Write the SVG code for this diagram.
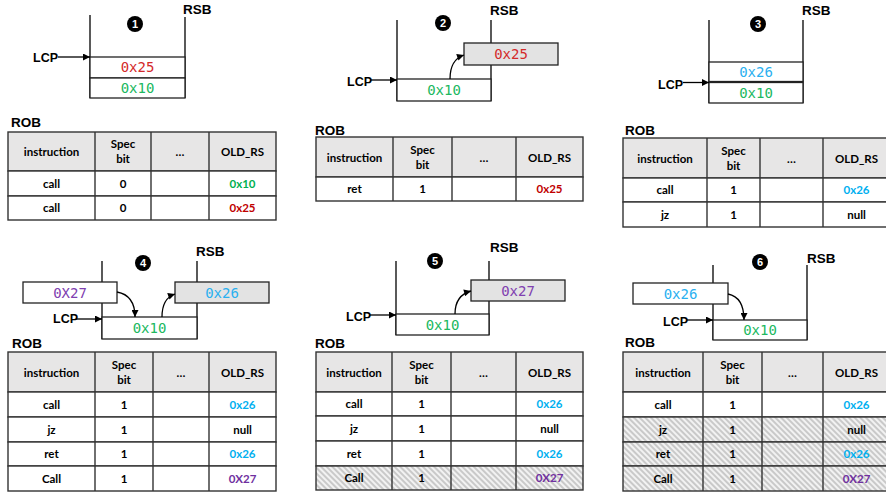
<svg xmlns="http://www.w3.org/2000/svg" width="886" height="492" viewBox="0 0 886 492">
<style>
.wall{stroke:#000;stroke-width:1.3;fill:none}
.box{fill:#fff;stroke:#222;stroke-width:1.3}
.gbox{fill:#e3e3e3;stroke:#222;stroke-width:1.3}
.mono{font-family:"DejaVu Sans Mono","Liberation Mono",monospace;font-size:14px;text-anchor:middle}
.lbl{font-family:"Liberation Sans",Arial,sans-serif;font-weight:bold;font-size:13.5px;fill:#000}
.lcp{font-family:"Liberation Sans",Arial,sans-serif;font-weight:bold;font-size:12.5px;fill:#000}
.nc{fill:#000}
.nt{font-family:"Liberation Sans",Arial,sans-serif;font-weight:bold;font-size:11px;fill:#fff;text-anchor:middle}
.th{fill:#e7e6e6;stroke:#333;stroke-width:1.4}
.td{fill:#fff;stroke:#333;stroke-width:1.4}
.hd{fill:url(#hatch);stroke:#333;stroke-width:1.4}
.vl{stroke:#333;stroke-width:1.4}
.tt{font-family:Lato,"Noto Sans","Liberation Sans",sans-serif;font-weight:bold;font-size:11.5px;text-anchor:middle;fill:#000}
.red{fill:#c00000}.grn{fill:#00b050}.blu{fill:#00b0f0}.pur{fill:#7030a0}
.mred{fill:#d42a2a}.mgrn{fill:#20b860}.mblu{fill:#2ab0f0}.mpur{fill:#8040b0}
.conn{stroke:#000;stroke-width:1.3;fill:none;marker-end:url(#ah)}
</style>
<defs>
<marker id="ah" viewBox="0 0 10 10" refX="10" refY="5" markerWidth="8" markerHeight="7" orient="auto" markerUnits="userSpaceOnUse"><path d="M0,0 L10,5 L0,10 z" fill="#000"/></marker>
<pattern id="hatch" patternUnits="userSpaceOnUse" width="4" height="4" patternTransform="rotate(-45)"><rect width="4" height="4" fill="#f2f2f2"/><line x1="1" y1="0" x2="1" y2="4" stroke="#bcbcbc" stroke-width="1.5"/></pattern>
</defs>

<!-- Panel 1 -->
<g id="rsb1">
<line class="wall" x1="90" y1="15" x2="90" y2="98"/>
<line class="wall" x1="185" y1="17" x2="185" y2="98"/>
<text class="lbl" x="183" y="14">RSB</text>
<circle class="nc" cx="135" cy="24" r="8"/><text class="nt" x="135" y="28">1</text>
<rect class="box" x="90" y="57" width="95" height="21"/><text class="mono mred" x="137.5" y="72">0x25</text>
<rect class="box" x="90" y="78" width="95" height="20"/><text class="mono mgrn" x="137.5" y="93">0x10</text>
<text class="lcp" x="33" y="62">LCP</text>
</g>
<g id="rob1">
<text class="lbl" x="11" y="127" font-size="14">ROB</text>
<rect class="th" x="8" y="132" width="268" height="39"/>
<rect class="td" x="8" y="171" width="268" height="25"/>
<rect class="td" x="8" y="196" width="268" height="24"/>
<line class="vl" x1="95" y1="132" x2="95" y2="220"/><line class="vl" x1="151" y1="132" x2="151" y2="220"/><line class="vl" x1="209" y1="132" x2="209" y2="220"/>
<text class="tt" x="51.5" y="156">instruction</text><text class="tt" x="123" y="148">Spec</text><text class="tt" x="123" y="163">bit</text><text class="tt" x="180" y="156">…</text><text class="tt" x="242.5" y="156">OLD_RS</text>
<text class="tt" x="51.5" y="187.5">call</text><text class="tt" x="123" y="187.5">0</text><text class="tt grn" x="242.5" y="187.5">0x10</text>
<text class="tt" x="51.5" y="212">call</text><text class="tt" x="123" y="212">0</text><text class="tt red" x="242.5" y="212">0x25</text>
</g>

<!-- Panel 2 -->
<g id="rsb2">
<line class="wall" x1="397" y1="20" x2="397" y2="101"/>
<line class="wall" x1="491" y1="20" x2="491" y2="101"/>
<text class="lbl" x="490" y="15">RSB</text>
<circle class="nc" cx="443" cy="23" r="8"/><text class="nt" x="443" y="27">2</text>
<rect class="gbox" x="464" y="43" width="94" height="22"/><text class="mono mred" x="511" y="59">0x25</text>
<rect class="box" x="397" y="79" width="94" height="22"/><text class="mono mgrn" x="444" y="95">0x10</text>
<text class="lcp" x="347" y="86">LCP</text>
</g>
<g id="rob2">
<text class="lbl" x="315" y="135" font-size="14">ROB</text>
<rect class="th" x="316" y="137" width="267" height="40"/>
<rect class="td" x="316" y="177" width="267" height="24"/>
<line class="vl" x1="393" y1="137" x2="393" y2="201"/><line class="vl" x1="452" y1="137" x2="452" y2="201"/><line class="vl" x1="516" y1="137" x2="516" y2="201"/>
<text class="tt" x="354.5" y="161.5">instruction</text><text class="tt" x="422.5" y="153.5">Spec</text><text class="tt" x="422.5" y="168.5">bit</text><text class="tt" x="484" y="161.5">…</text><text class="tt" x="549.5" y="161.5">OLD_RS</text>
<text class="tt" x="354.5" y="193">ret</text><text class="tt" x="422.5" y="193">1</text><text class="tt red" x="549.5" y="193">0x25</text>
</g>

<!-- Panel 3 -->
<g id="rsb3">
<line class="wall" x1="709" y1="20" x2="709" y2="103"/>
<line class="wall" x1="803" y1="20" x2="803" y2="103"/>
<text class="lbl" x="802" y="15">RSB</text>
<circle class="nc" cx="758" cy="24" r="8"/><text class="nt" x="758" y="28">3</text>
<rect class="box" x="709" y="62" width="94" height="19.5"/><text class="mono mblu" x="756" y="77">0x26</text>
<rect class="box" x="709" y="82.5" width="94" height="20.5"/><text class="mono mgrn" x="756" y="98">0x10</text>
<text class="lcp" x="658" y="89">LCP</text>
</g>
<g id="rob3">
<text class="lbl" x="625" y="135" font-size="14">ROB</text>
<rect class="th" x="623" y="138" width="267" height="40"/>
<rect class="td" x="623" y="178" width="267" height="24"/>
<rect class="td" x="623" y="202" width="267" height="25"/>
<line class="vl" x1="707" y1="138" x2="707" y2="227"/><line class="vl" x1="760" y1="138" x2="760" y2="227"/><line class="vl" x1="823" y1="138" x2="823" y2="227"/>
<text class="tt" x="665" y="162.5">instruction</text><text class="tt" x="733.5" y="154.5">Spec</text><text class="tt" x="733.5" y="169.5">bit</text><text class="tt" x="791.5" y="162.5">…</text><text class="tt" x="856.5" y="162.5">OLD_RS</text>
<text class="tt" x="665" y="194">call</text><text class="tt" x="733.5" y="194">1</text><text class="tt blu" x="856.5" y="194">0x26</text>
<text class="tt" x="665" y="218.5">jz</text><text class="tt" x="733.5" y="218.5">1</text><text class="tt" x="856.5" y="218.5">null</text>
</g>

<!-- Panel 4 -->
<g id="rsb4">
<line class="wall" x1="102" y1="261" x2="102" y2="339"/>
<line class="wall" x1="197" y1="261" x2="197" y2="339"/>
<text class="lbl" x="196" y="256">RSB</text>
<circle class="nc" cx="143" cy="263" r="8"/><text class="nt" x="143" y="267">4</text>
<rect class="box" x="23" y="282" width="94" height="21"/><text class="mono mpur" x="70" y="298">0X27</text>
<rect class="gbox" x="175" y="282" width="94" height="21"/><text class="mono mblu" x="222" y="298">0x26</text>
<rect class="box" x="102" y="317" width="95" height="22"/><text class="mono mgrn" x="149.5" y="333">0x10</text>
<text class="lcp" x="53" y="323">LCP</text>
</g>
<g id="rob4">
<text class="lbl" x="12" y="348" font-size="14">ROB</text>
<rect class="th" x="8" y="352" width="268" height="40"/>
<rect class="td" x="8" y="392" width="268" height="25"/>
<rect class="td" x="8" y="417" width="268" height="25"/>
<rect class="td" x="8" y="442" width="268" height="24"/>
<rect class="td" x="8" y="466" width="268" height="25"/>
<line class="vl" x1="95" y1="352" x2="95" y2="491"/><line class="vl" x1="153" y1="352" x2="153" y2="491"/><line class="vl" x1="209" y1="352" x2="209" y2="491"/>
<text class="tt" x="51.5" y="376.5">instruction</text><text class="tt" x="124" y="368.5">Spec</text><text class="tt" x="124" y="383.5">bit</text><text class="tt" x="181" y="376.5">…</text><text class="tt" x="242.5" y="376.5">OLD_RS</text>
<text class="tt" x="51.5" y="408.5">call</text><text class="tt" x="124" y="408.5">1</text><text class="tt blu" x="242.5" y="408.5">0x26</text>
<text class="tt" x="51.5" y="433.5">jz</text><text class="tt" x="124" y="433.5">1</text><text class="tt" x="242.5" y="433.5">null</text>
<text class="tt" x="51.5" y="458">ret</text><text class="tt" x="124" y="458">1</text><text class="tt blu" x="242.5" y="458">0x26</text>
<text class="tt" x="51.5" y="482.5">Call</text><text class="tt" x="124" y="482.5">1</text><text class="tt pur" x="242.5" y="482.5">0X27</text>
</g>

<!-- Panel 5 -->
<g id="rsb5">
<line class="wall" x1="396" y1="261" x2="396" y2="335"/>
<line class="wall" x1="489" y1="261" x2="489" y2="335"/>
<text class="lbl" x="490" y="252">RSB</text>
<circle class="nc" cx="435" cy="261" r="8"/><text class="nt" x="435" y="265">5</text>
<rect class="gbox" x="471" y="280" width="94" height="21"/><text class="mono mpur" x="518" y="296">0x27</text>
<rect class="box" x="396" y="314" width="93" height="21"/><text class="mono mgrn" x="442.5" y="330">0x10</text>
<text class="lcp" x="346" y="321">LCP</text>
</g>
<g id="rob5">
<text class="lbl" x="315" y="348" font-size="14">ROB</text>
<rect class="th" x="316" y="352" width="267" height="40"/>
<rect class="td" x="316" y="392" width="267" height="24"/>
<rect class="td" x="316" y="416" width="267" height="25"/>
<rect class="td" x="316" y="441" width="267" height="25"/>
<rect class="hd" x="316" y="466" width="267" height="24"/>
<line class="vl" x1="392" y1="352" x2="392" y2="490"/><line class="vl" x1="451" y1="352" x2="451" y2="490"/><line class="vl" x1="516" y1="352" x2="516" y2="490"/>
<text class="tt" x="354" y="376.5">instruction</text><text class="tt" x="421.5" y="368.5">Spec</text><text class="tt" x="421.5" y="383.5">bit</text><text class="tt" x="483.5" y="376.5">…</text><text class="tt" x="549.5" y="376.5">OLD_RS</text>
<text class="tt" x="354" y="408">call</text><text class="tt" x="421.5" y="408">1</text><text class="tt blu" x="549.5" y="408">0x26</text>
<text class="tt" x="354" y="432.5">jz</text><text class="tt" x="421.5" y="432.5">1</text><text class="tt" x="549.5" y="432.5">null</text>
<text class="tt" x="354" y="457.5">ret</text><text class="tt" x="421.5" y="457.5">1</text><text class="tt blu" x="549.5" y="457.5">0x26</text>
<text class="tt" x="354" y="482">Call</text><text class="tt" x="421.5" y="482">1</text><text class="tt pur" x="549.5" y="482">0X27</text>
</g>

<!-- Panel 6 -->
<g id="rsb6">
<line class="wall" x1="713" y1="265" x2="713" y2="340"/>
<line class="wall" x1="807" y1="265" x2="807" y2="340"/>
<text class="lbl" x="807" y="263">RSB</text>
<circle class="nc" cx="760" cy="262" r="8"/><text class="nt" x="760" y="266">6</text>
<rect class="box" x="633" y="283" width="95" height="21"/><text class="mono mblu" x="680.5" y="299">0x26</text>
<rect class="box" x="713" y="320" width="94" height="20"/><text class="mono mgrn" x="760" y="335">0x10</text>
<text class="lcp" x="663" y="326">LCP</text>
</g>
<g id="rob6">
<text class="lbl" x="625" y="347" font-size="14">ROB</text>
<rect class="th" x="623" y="352" width="267" height="40"/>
<rect class="td" x="623" y="392" width="267" height="25"/>
<rect class="hd" x="623" y="417" width="267" height="25"/>
<rect class="hd" x="623" y="442" width="267" height="24"/>
<rect class="hd" x="623" y="466" width="267" height="25"/>
<line class="vl" x1="703" y1="352" x2="703" y2="491"/><line class="vl" x1="762" y1="352" x2="762" y2="491"/><line class="vl" x1="823" y1="352" x2="823" y2="491"/>
<text class="tt" x="663" y="376.5">instruction</text><text class="tt" x="732.5" y="368.5">Spec</text><text class="tt" x="732.5" y="383.5">bit</text><text class="tt" x="792.5" y="376.5">…</text><text class="tt" x="856.5" y="376.5">OLD_RS</text>
<text class="tt" x="663" y="408.5">call</text><text class="tt" x="732.5" y="408.5">1</text><text class="tt blu" x="856.5" y="408.5">0x26</text>
<text class="tt" x="663" y="433.5">jz</text><text class="tt" x="732.5" y="433.5">1</text><text class="tt" x="856.5" y="433.5">null</text>
<text class="tt" x="663" y="458">ret</text><text class="tt" x="732.5" y="458">1</text><text class="tt blu" x="856.5" y="458">0x26</text>
<text class="tt" x="663" y="482.5">Call</text><text class="tt" x="732.5" y="482.5">1</text><text class="tt pur" x="856.5" y="482.5">0X27</text>
</g>

<g id="connectors">
<line class="conn" x1="58" y1="57" x2="90" y2="57"/>
<line class="conn" x1="370" y1="80" x2="397" y2="80"/>
<path class="conn" d="M450,79 C450,66 455,58 464,55"/>
<line class="conn" x1="683" y1="82.5" x2="709" y2="82.5"/>
<line class="conn" x1="76" y1="319" x2="102" y2="319"/>
<path class="conn" d="M117,292 C128,294 135,302 135,317"/>
<path class="conn" d="M162,317 C162,305 166,297 175,294"/>
<line class="conn" x1="369" y1="315" x2="396" y2="315"/>
<path class="conn" d="M455,314 C455,302 460,294 471,291"/>
<line class="conn" x1="687" y1="320" x2="713" y2="320"/>
<path class="conn" d="M728,294 C738,296 744,304 744,320"/>
</g>
</svg>
